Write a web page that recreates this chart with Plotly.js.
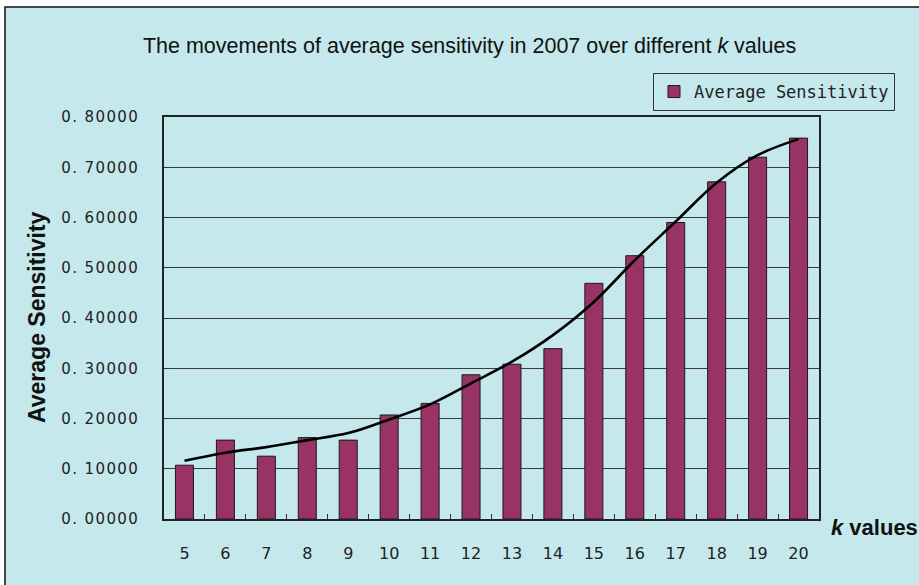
<!DOCTYPE html>
<html>
<head>
<meta charset="utf-8">
<script src="https://cdn.plot.ly/plotly-3.0.1.min.js"></script>
<style>
html,body{margin:0;padding:0;background:#ffffff;}
#chart{width:919px;height:585px;}
.ytick text{letter-spacing:1.4px;}
</style>
</head>
<body>
<div id="chart"></div>
<script>
// Data
const kValues = ['5','6','7','8','9','10','11','12','13','14','15','16','17','18','19','20'];
const avgSensitivity = [0.107,0.157,0.125,0.162,0.157,0.207,0.230,0.287,0.308,0.339,0.469,0.524,0.590,0.671,0.720,0.758];
const trendValues = [0.116,0.132,0.143,0.157,0.171,0.198,0.228,0.270,0.313,0.366,0.432,0.515,0.592,0.669,0.724,0.756];
const yTickVals = [0,0.1,0.2,0.3,0.4,0.5,0.6,0.7,0.8];
const yTickText = ['0. 00000','0. 10000','0. 20000','0. 30000','0. 40000','0. 50000','0. 60000','0. 70000','0. 80000'];

const cyan = '#c4e8eb';

const traces = [
  {
    type: 'bar',
    x: kValues,
    y: avgSensitivity,
    name: 'Average Sensitivity',
    width: 0.44,
    marker: {color: '#993366', line: {color: '#1a1a1a', width: 1}},
    hoverinfo: 'x+y'
  },
  {
    type: 'scatter',
    mode: 'lines',
    x: kValues,
    y: trendValues,
    line: {color: '#000000', width: 2.6, shape: 'spline', smoothing: 1},
    showlegend: false,
    hoverinfo: 'skip'
  }
];

const layout = {
  width: 919,
  height: 585,
  margin: {l: 164, r: 100, t: 117, b: 66, pad: 0},
  paper_bgcolor: '#ffffff',
  plot_bgcolor: '#c0c0c0',
  font: {family: 'Liberation Sans, Arial, sans-serif', color: '#1a1a1a'},
  title: {
    text: 'The movements of average sensitivity in 2007 over different <i>k</i> values',
    font: {family: 'Liberation Sans, Arial, sans-serif', size: 21.5, color: '#111111'},
    x: 0.511, xanchor: 'center', xref: 'container',
    y: 1 - 45/585, yanchor: 'middle', yref: 'container'
  },
  xaxis: {
    type: 'category',
    tickson: 'boundaries',
    ticks: 'inside',
    ticklen: 5,
    tickcolor: '#333333',
    tickwidth: 1,
    showline: true,
    linecolor: '#222222',
    linewidth: 1.5,
    mirror: true,
    showgrid: false,
    zeroline: false,
    tickfont: {family: 'DejaVu Sans, sans-serif', size: 16, color: '#222222'},
    ticklabelstandoff: 19
  },
  yaxis: {
    range: [0, 0.8],
    tickvals: yTickVals,
    ticktext: yTickText,
    ticks: 'inside',
    ticklen: 5,
    tickcolor: '#333333',
    showline: true,
    linecolor: '#222222',
    linewidth: 1.5,
    mirror: true,
    showgrid: true,
    gridcolor: '#3a3a3a',
    gridwidth: 1,
    zeroline: false,
    tickfont: {family: 'DejaVu Sans, sans-serif', size: 15, color: '#222222'},
    ticklabelstandoff: 20
  },
  showlegend: true,
  legend: {
    x: (653 - 164) / 655, xanchor: 'left',
    y: (519 - 73) / 402, yanchor: 'top',
    bgcolor: cyan,
    bordercolor: '#333333',
    borderwidth: 1,
    font: {family: 'DejaVu Sans Mono, monospace', size: 17, color: '#222222'},
    itemwidth: 30,
    tracegroupgap: 0
  },
  shapes: [
    {
      type: 'rect', xref: 'paper', yref: 'paper', layer: 'below',
      x0: (5 - 164) / 655, x1: (930 - 164) / 655,
      y0: (519 - 600) / 402, y1: (519 - 7) / 402,
      fillcolor: cyan,
      line: {color: '#111111', width: 1.5}
    }
  ],
  annotations: [
    {
      text: '<b>Average Sensitivity</b>',
      xref: 'paper', yref: 'paper',
      x: (37 - 164) / 655, y: (519 - 317) / 402,
      xanchor: 'center', yanchor: 'middle',
      textangle: -90,
      showarrow: false,
      font: {family: 'Liberation Sans, Arial, sans-serif', size: 23, color: '#111111'}
    },
    {
      text: '<b><i>k</i> values</b>',
      xref: 'paper', yref: 'paper',
      x: (829 - 164) / 655, y: (519 - 527) / 402,
      xanchor: 'left', yanchor: 'middle',
      showarrow: false,
      font: {family: 'Liberation Sans, Arial, sans-serif', size: 22, color: '#111111'}
    }
  ]
};

Plotly.newPlot('chart', traces, layout, {displayModeBar: false, responsive: false});
</script>
</body>
</html>
